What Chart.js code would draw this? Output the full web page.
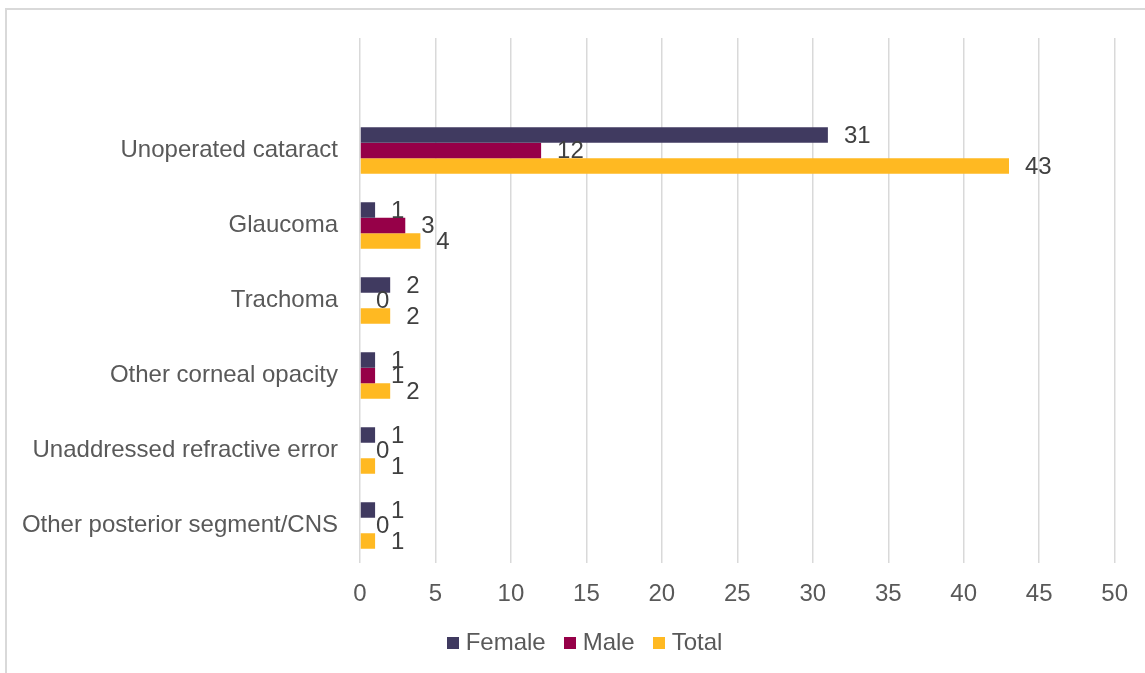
<!DOCTYPE html>
<html>
<head>
<meta charset="utf-8">
<script src="https://cdn.jsdelivr.net/npm/chart.js@4"></script>
<style>
  html, body { margin: 0; padding: 0; background: #fff; overflow: hidden; }
  #wrap { position: relative; width: 1145px; height: 673px; }
  #frame {
    position: absolute; left: 5px; top: 8px; width: 1200px; height: 700px;
    border: 2px solid #D9D9D9; pointer-events: none;
  }
</style>
</head>
<body>
<div id="wrap">
  <canvas id="chart" width="1145" height="673"></canvas>
  <div id="frame"></div>
</div>
<script>
// causes of blindness, by sex (first row left blank on purpose)
const categories = ['', 'Unoperated cataract', 'Glaucoma', 'Trachoma', 'Other corneal opacity',
  'Unaddressed refractive error', 'Other posterior segment/CNS'];
const female = [null, 31, 1, 2, 1, 1, 1];
const male = [null, 12, 3, 0, 1, 0, 0];
const total = [null, 43, 4, 2, 2, 1, 1];
const xTicks = { min: 0, max: 50, step: 5 };

const FONT = '"Liberation Sans", Arial, sans-serif';
const COLORS = ['#403A60', '#960048', '#FFB922'];

// small square used as the legend marker (keeps the gap to the text tight)
function swatch(color) {
  const c = document.createElement('canvas');
  c.width = 12;
  c.height = 12;
  const g = c.getContext('2d');
  g.fillStyle = color;
  g.fillRect(0, 0, 12, 12);
  return c;
}
const swatches = COLORS.map(swatch);

// writes each value just past the end of its bar
const valueLabels = {
  id: 'valueLabels',
  afterDatasetsDraw(chart) {
    const ctx = chart.ctx;
    ctx.save();
    ctx.font = '24px ' + FONT;
    ctx.fillStyle = '#404040';
    ctx.textAlign = 'left';
    ctx.textBaseline = 'middle';
    chart.data.datasets.forEach((ds, i) => {
      chart.getDatasetMeta(i).data.forEach((bar, j) => {
        const v = ds.data[j];
        if (v === null || v === undefined) return;
        ctx.fillText(String(v), bar.x + 16, bar.y + 1);
      });
    });
    ctx.restore();
  }
};

// nudge the legend row a bit to the right of the canvas centre
const legendShift = {
  id: 'legendShift',
  afterLayout(chart) {
    if (!chart.legend) return;
    chart.legend.left += 30;
    chart.legend.right += 30;
  }
};

new Chart(document.getElementById('chart'), {
  type: 'bar',
  data: {
    labels: categories,
    datasets: [
      { label: 'Female', data: female, backgroundColor: COLORS[0] },
      { label: 'Male', data: male, backgroundColor: COLORS[1] },
      { label: 'Total', data: total, backgroundColor: COLORS[2] }
    ]
  },
  options: {
    indexAxis: 'y',
    responsive: false,
    animation: false,
    layout: { padding: { left: 0, right: 30, top: 38, bottom: 8 } },
    datasets: {
      bar: { categoryPercentage: 0.62, barPercentage: 1.0 }
    },
    scales: {
      x: {
        min: xTicks.min,
        max: xTicks.max,
        ticks: {
          stepSize: xTicks.step,
          color: '#595959',
          font: { family: FONT, size: 24 },
          padding: 17
        },
        grid: { color: '#D9D9D9', lineWidth: 1.5, drawTicks: false },
        border: { display: false },
        afterFit(scale) { scale.height = 44; }
      },
      y: {
        ticks: {
          color: '#595959',
          font: { family: FONT, size: 24 },
          padding: 22
        },
        grid: { display: false, drawTicks: false },
        border: { display: false },
        afterFit(scale) { scale.width = 360; }
      }
    },
    plugins: {
      legend: {
        position: 'bottom',
        labels: {
          color: '#595959',
          font: { family: FONT, size: 24 },
          usePointStyle: true,
          pointStyleWidth: 1,
          boxHeight: 12,
          padding: 24,
          generateLabels(chart) {
            const items = Chart.defaults.plugins.legend.labels.generateLabels(chart);
            return items.map((item, i) => Object.assign(item, { pointStyle: swatches[i] }));
          }
        }
      },
      tooltip: { enabled: false }
    }
  },
  plugins: [valueLabels, legendShift]
});
</script>
</body>
</html>
